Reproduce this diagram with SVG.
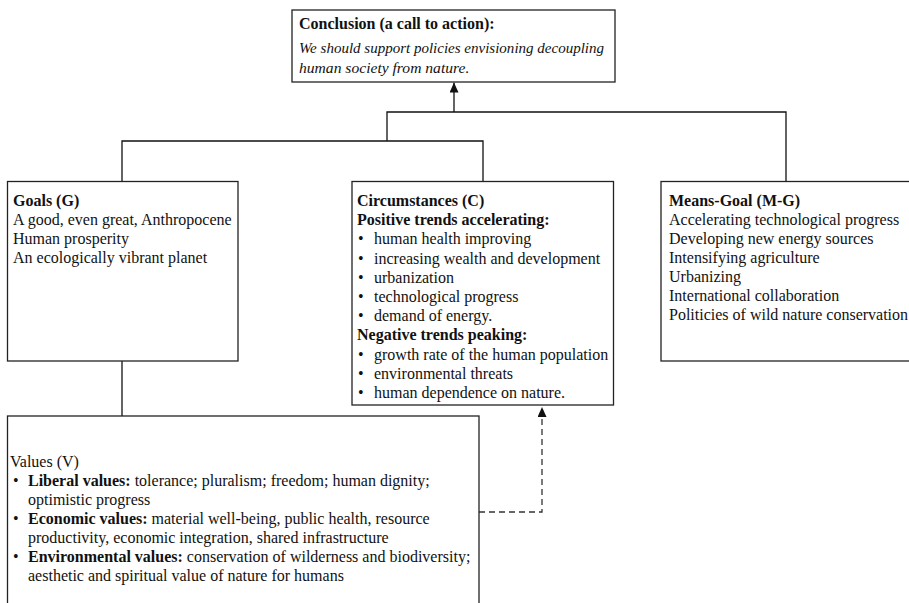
<svg xmlns="http://www.w3.org/2000/svg" width="909" height="603" viewBox="0 0 909 603">
<style>
text{font-family:"Liberation Serif","Times New Roman",serif;font-size:16px;fill:#111}
.b{font-weight:bold}
.i{font-style:italic;font-size:15.6px}
.box{fill:#fff;stroke:#222;stroke-width:1.3}
.ln{fill:none;stroke:#111;stroke-width:1.3}
.dash{fill:none;stroke:#333;stroke-width:1.3;stroke-dasharray:6 4}
</style>
<defs>
<marker id="ah" viewBox="0 0 10 9" markerWidth="10" markerHeight="9" refX="10" refY="4.5" orient="auto" markerUnits="userSpaceOnUse">
<path d="M0,0 L10,4.5 L0,9 z" fill="#111"/>
</marker>
</defs>
<rect width="909" height="603" fill="#fff"/>
<g id="connectors">
<path class="ln" d="M454,112 V82.5" marker-end="url(#ah)"/>
<path class="ln" d="M387,141 V112 H786 V181"/>
<path class="ln" d="M122,181 V141 H483 V181"/>
<path class="ln" d="M122,361 V416"/>
<path class="dash" d="M479,512 H542 V407" marker-end="url(#ah)"/>
</g>
<g id="conclusion">
<rect class="box" x="292" y="10" width="323" height="72"/>
<text x="299" y="29" class="b">Conclusion (a call to action):</text>
<text x="299" y="53" class="i" textLength="305" lengthAdjust="spacingAndGlyphs">We should support policies envisioning decoupling</text>
<text x="299" y="73" class="i">human society from nature.</text>
</g>
<g id="goals">
<rect class="box" x="7.5" y="181.5" width="230.5" height="179.5"/>
<text x="13" y="206" class="b">Goals (G)</text>
<text x="13" y="225">A good, even great, Anthropocene</text>
<text x="13" y="244">Human prosperity</text>
<text x="13" y="263">An ecologically vibrant planet</text>
</g>
<g id="circumstances">
<rect class="box" x="352" y="181.5" width="261.5" height="223.5"/>
<text x="357" y="206" class="b">Circumstances (C)</text>
<text x="357" y="225.2" class="b">Positive trends accelerating:</text>
<text x="358" y="244.4">•</text><text x="374" y="244.4">human health improving</text>
<text x="358" y="263.6">•</text><text x="374" y="263.6">increasing wealth and development</text>
<text x="358" y="282.8">•</text><text x="374" y="282.8">urbanization</text>
<text x="358" y="302">•</text><text x="374" y="302">technological progress</text>
<text x="358" y="321.2">•</text><text x="374" y="321.2">demand of energy.</text>
<text x="357" y="340.4" class="b">Negative trends peaking:</text>
<text x="358" y="359.6">•</text><text x="374" y="359.6">growth rate of the human population</text>
<text x="358" y="378.8">•</text><text x="374" y="378.8">environmental threats</text>
<text x="358" y="398">•</text><text x="374" y="398">human dependence on nature.</text>
</g>
<g id="means-goal">
<rect class="box" x="661" y="181.5" width="260" height="179.5"/>
<text x="669" y="206" class="b">Means-Goal (M-G)</text>
<text x="669" y="225">Accelerating technological progress</text>
<text x="669" y="244">Developing new energy sources</text>
<text x="669" y="263">Intensifying agriculture</text>
<text x="669" y="282">Urbanizing</text>
<text x="669" y="301">International collaboration</text>
<text x="669" y="320">Politicies of wild nature conservation</text>
</g>
<g id="values">
<rect class="box" x="7.5" y="416" width="471.5" height="200"/>
<text x="10" y="467">Values (V)</text>
<text x="13" y="486">•</text><text x="28" y="486"><tspan class="b">Liberal values:</tspan> tolerance; pluralism; freedom; human dignity;</text>
<text x="28" y="505">optimistic progress</text>
<text x="13" y="524">•</text><text x="28" y="524"><tspan class="b">Economic values:</tspan> material well-being, public health, resource</text>
<text x="28" y="543">productivity, economic integration, shared infrastructure</text>
<text x="13" y="562">•</text><text x="28" y="562"><tspan class="b">Environmental values:</tspan> conservation of wilderness and biodiversity;</text>
<text x="28" y="581">aesthetic and spiritual value of nature for humans</text>
</g>
</svg>
